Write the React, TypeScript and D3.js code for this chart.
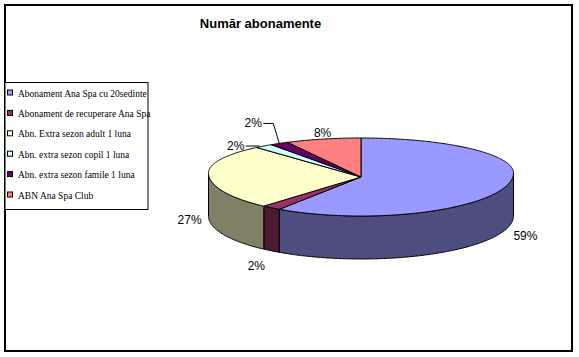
import React from "react";
import * as d3 from "d3";

const categories = [
  "Abonament Ana Spa cu 20sedinte",
  "Abonament de recuperare Ana Spa",
  "Abn. Extra sezon adult 1 luna",
  "Abn. extra sezon copil 1 luna",
  "Abn. extra sezon famile 1 luna",
  "ABN Ana Spa Club",
];
const values = [59, 2, 27, 2, 2, 8];
const topColors = ["#9999FF", "#993366", "#FFFFCC", "#CCFFFF", "#660066", "#FF8080"];
const sideColors = ["#4D4D80", "#4D1A33", "#808066", "#668080", "#330033", "#804040"];
const title = "Număr abonamente";

// label offsets relative to the slice's outer anchor point
const labelOffsets: [number, number][] = [
  [18, 30],
  [-15, 37],
  [-19, 24],
  [-28, 0],
  [-26, -20],
  [-0.5, -6],
];
const leaderLines = [false, false, false, true, true, false];

const W = 579;
const H = 357;
const cx = 361;
const cy = 173;
const rx = 152.5;
const ryBack = 35;
const ryFront = 43;
const depth = 43;
const apexY = 177;

function pt(t: number, dy = 0): [number, number] {
  const c = Math.cos(t);
  const ry = c > 0 ? ryBack : ryFront;
  return [cx + rx * Math.sin(t), cy - ry * c + dy];
}

function arcPts(a: number, b: number, dy = 0): [number, number][] {
  const n = Math.max(2, Math.ceil(Math.abs(b - a) / (Math.PI / 360)));
  return d3.range(n + 1).map((i) => pt(a + ((b - a) * i) / n, dy));
}

const line = (p: [number, number][]) => "M" + p.map((q) => q[0].toFixed(2) + "," + q[1].toFixed(2)).join("L");

export default function App() {
  const pie = d3.pie<number>().sort(null).startAngle(0).endAngle(2 * Math.PI)(values);
  const total = d3.sum(values);

  const walls: JSX.Element[] = [];
  pie.forEach((s, i) => {
    const a = Math.max(s.startAngle, Math.PI / 2);
    const b = Math.min(s.endAngle, (3 * Math.PI) / 2);
    if (b > a) {
      const top = arcPts(a, b);
      const bot = arcPts(b, a, depth);
      walls.push(
        <path key={"w" + i} d={line([...top, ...bot]) + "Z"} fill={sideColors[i]} stroke="#000" strokeWidth={1} strokeLinejoin="round" />
      );
    }
  });

  const tops = pie.map((s, i) => {
    const p = [[cx, apexY] as [number, number], ...arcPts(s.startAngle, s.endAngle)];
    return <path key={"t" + i} d={line(p) + "Z"} fill={topColors[i]} stroke="#000" strokeWidth={1} strokeLinejoin="round" />;
  });

  const labels = pie.map((s, i) => {
    const mid = (s.startAngle + s.endAngle) / 2;
    const front = Math.cos(mid) < 0;
    const anchor = pt(mid, front ? depth / 2 : 0);
    const lx = anchor[0] + labelOffsets[i][0];
    const ly = anchor[1] + labelOffsets[i][1];
    const txt = Math.round((values[i] / total) * 100) + "%";
    const out: JSX.Element[] = [
      <text key={"l" + i} x={lx} y={ly + 4} textAnchor="middle" fontFamily="Arial, 'Liberation Sans', sans-serif" fontSize={12} fill="#000">
        {txt}
      </text>,
    ];
    if (leaderLines[i]) {
      const edge = pt(mid);
      const sx = lx + 10;
      const p: [number, number][] =
        edge[1] - ly > 15
          ? [[sx, ly], [edge[0] - 6, ly], [edge[0], edge[1]]]
          : [[sx, ly], [edge[0] - 4, edge[1]]];
      out.push(<path key={"ll" + i} d={line(p)} fill="none" stroke="#000" strokeWidth={1} />);
    }
    return out;
  });

  const legendY0 = 93;
  const legendStep = 20.4;

  return (
    <svg
      width={W}
      height={H}
      style={{ position: "absolute", left: 0, top: 0, background: "#fff" }}
      xmlns="http://www.w3.org/2000/svg"
    >
      <rect x={0} y={0} width={W} height={H} fill="#fff" />
      <rect x={5} y={5} width={567} height={346} fill="#fff" stroke="#000" strokeWidth={2} />
      <text x={260.5} y={28} textAnchor="middle" fontFamily="Arial, 'Liberation Sans', sans-serif" fontWeight="bold" fontSize={13} fill="#000">
        {title}
      </text>
      <rect x={5} y={82.5} width={143} height={127} fill="#fff" stroke="#000" strokeWidth={1} />
      {categories.map((c, i) => {
        const y = legendY0 + i * legendStep;
        return (
          <g key={"lg" + i}>
            <rect x={7.5} y={y - 3} width={5} height={5} fill={topColors[i]} stroke="#000" strokeWidth={1} />
            <text x={18} y={y + 3.5} fontFamily="'Times New Roman', 'Liberation Serif', serif" fontSize={9.5} fill="#000">
              {c}
            </text>
          </g>
        );
      })}
      {walls}
      {tops}
      {labels}
    </svg>
  );
}
